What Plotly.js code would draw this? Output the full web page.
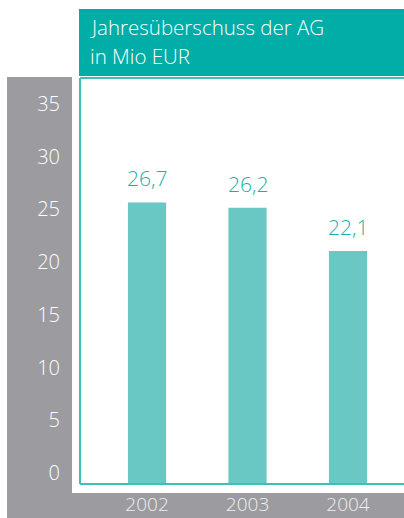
<!DOCTYPE html>
<html>
<head>
<meta charset="utf-8">
<script src="https://cdn.plot.ly/plotly-3.0.1.min.js"></script>
<style>html,body{margin:0;padding:0;background:#fff;}#chart{width:404px;height:518px;}</style>
</head>
<body>
<div id="chart"></div>
<script>
var years = ['2002', '2003', '2004'];
var values = [26.7, 26.2, 22.1];
var yTicks = [0, 5, 10, 15, 20, 25, 30, 35];
var titleLines = ['Jahresüberschuss der AG', 'in Mio EUR'];

var W = 404, H = 518, L = 80, R = 0, T = 78, B = 34;
var pw = W - L - R, ph = H - T - B;
function px(x) { return (x - L) / pw; }
function py(y) { return (H - B - y) / ph; }

var fontFam = '"Open Sans", "Liberation Sans", sans-serif';
var teal = '#00ada7', barCol = '#69c8c3', border = '#3cc0ba', gray = '#9b9ba0';

var trace = {
  type: 'bar', x: years, y: values,
  marker: {color: barCol}, hoverinfo: 'none'
};

var annotations = values.map(function (v, i) {
  return {
    x: i, y: v, xref: 'x', yref: 'y',
    text: v.toFixed(1).replace('.', ','),
    showarrow: false, yanchor: 'bottom', yshift: 8,
    font: {family: fontFam, size: 21, color: '#1aafa8', weight: 300}
  };
});
annotations.push({x: px(88), y: py(27), xref: 'paper', yref: 'paper', xanchor: 'left', yanchor: 'middle',
  text: titleLines[0], showarrow: false, font: {family: fontFam, size: 20.5, color: '#ffffff', weight: 300}});
annotations.push({x: px(88), y: py(56), xref: 'paper', yref: 'paper', xanchor: 'left', yanchor: 'middle',
  text: titleLines[1], showarrow: false, font: {family: fontFam, size: 20.5, color: '#ffffff', weight: 300}});

var shapes = [
  {type: 'rect', xref: 'paper', yref: 'paper', x0: px(7), x1: px(72), y0: py(77), y1: py(518), fillcolor: gray, line: {width: 0}, layer: 'below'},
  {type: 'rect', xref: 'paper', yref: 'paper', x0: px(7), x1: px(404), y0: py(493), y1: py(518), fillcolor: gray, line: {width: 0}, layer: 'below'},
  {type: 'rect', xref: 'paper', yref: 'paper', x0: px(79), x1: px(404), y0: py(9), y1: py(76), fillcolor: teal, line: {width: 0}, layer: 'below'},
  {type: 'line', xref: 'paper', yref: 'paper', x0: 0, x1: 1, y0: 1, y1: 1, line: {color: border, width: 2}},
  {type: 'line', xref: 'paper', yref: 'paper', x0: 0, x1: 1, y0: 0, y1: 0, line: {color: border, width: 2}},
  {type: 'line', xref: 'paper', yref: 'paper', x0: 0, x1: 0, y0: 0, y1: 1, line: {color: border, width: 2}}
];

var layout = {
  width: W, height: H,
  margin: {l: L, r: R, t: T, b: B, pad: 0},
  paper_bgcolor: '#ffffff', plot_bgcolor: '#ffffff',
  showlegend: false, bargap: 0.62,
  xaxis: {
    type: 'category', range: [-0.667, 2.557], fixedrange: true,
    showgrid: false, zeroline: false, showline: false,
    ticks: 'outside', ticklen: 3, tickcolor: 'rgba(0,0,0,0)',
    tickfont: {family: fontFam, size: 19, color: '#f0f0f0', weight: 300}
  },
  yaxis: {
    range: [0, 38.5], fixedrange: true,
    tickvals: yTicks, ticktext: yTicks.map(String),
    showgrid: false, zeroline: false, showline: false,
    ticks: 'outside', ticklen: 15, tickcolor: 'rgba(0,0,0,0)',
    ticklabelshift: -11,
    tickfont: {family: fontFam, size: 20, color: '#ffffff', weight: 300}
  },
  annotations: annotations,
  shapes: shapes
};

Plotly.newPlot('chart', [trace], layout, {displayModeBar: false, staticPlot: true});
</script>
</body>
</html>
